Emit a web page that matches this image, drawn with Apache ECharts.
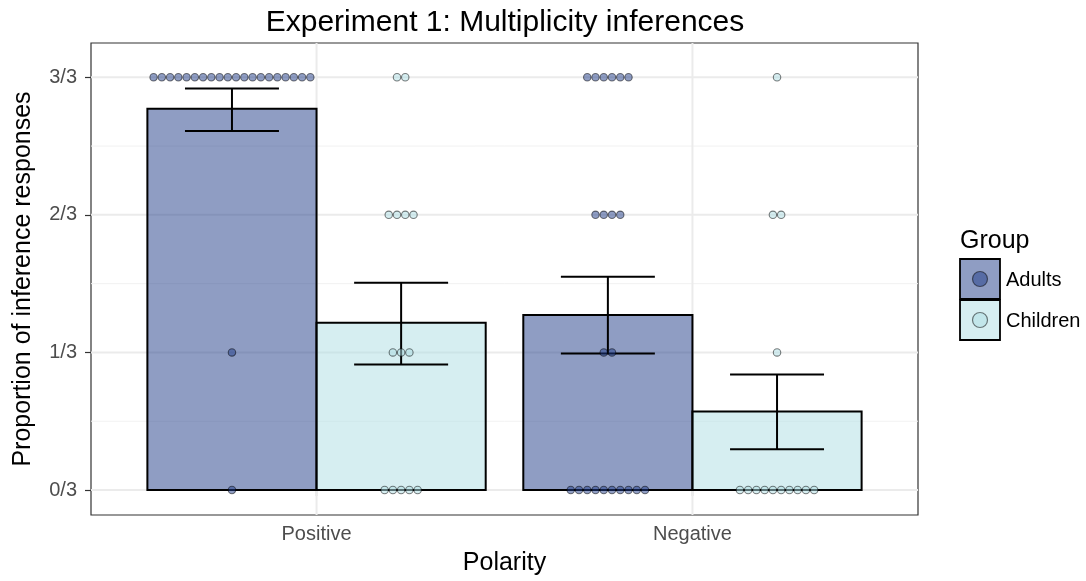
<!DOCTYPE html>
<html>
<head>
<meta charset="utf-8">
<script src="https://cdn.jsdelivr.net/npm/echarts@6/dist/echarts.min.js"></script>
<style>
html,body{margin:0;padding:0;background:#fff;}
#chart{width:1086px;height:581px;}
</style>
</head>
<body>
<div id="chart"></div>
<script>
// ---- data ----
const categories = ['Positive', 'Negative'];
const groups = ['Adults', 'Children'];
const yTickValues = [0, 1/3, 2/3, 1];
const yTickLabels = ['0/3', '1/3', '2/3', '3/3'];
const yMinorValues = [1/6, 1/2, 5/6];

const adultsMean = [0.924, 0.424];
const childrenMean = [0.405, 0.190];
const adultsLow = [0.870, 0.331];
const adultsHigh = [0.973, 0.517];
const childrenLow = [0.304, 0.099];
const childrenHigh = [0.502, 0.280];

// dot counts per response level (0/3, 1/3, 2/3, 3/3)
const dotLevels = [0, 1/3, 2/3, 1];
const adultsPositiveCounts = [1, 1, 0, 20];
const childrenPositiveCounts = [5, 3, 4, 2];
const adultsNegativeCounts = [10, 2, 4, 6];
const childrenNegativeCounts = [10, 1, 2, 1];

// ---- styling ----
const fillColors = ['rgba(31,59,135,0.5)', 'rgba(173,221,227,0.5)'];
const dotStroke = 'rgba(0,0,0,0.5)';
const FONT = '"Liberation Sans", Arial, Helvetica, sans-serif';
const DODGE = 0.45;     // bar width per group in x units
const ERR_HALF = 0.125; // half width of error-bar caps
const DOT_D = 8.25;     // dot diameter px

// ---- build series data ----
const barData = [];
const errData = [];
categories.forEach((c, i) => {
  barData.push([i + 1, adultsMean[i], 0]);
  barData.push([i + 1, childrenMean[i], 1]);
  errData.push([i + 1, adultsLow[i], adultsHigh[i], 0]);
  errData.push([i + 1, childrenLow[i], childrenHigh[i], 1]);
});
const countSets = [
  [adultsPositiveCounts, childrenPositiveCounts],
  [adultsNegativeCounts, childrenNegativeCounts]
];
const dotData = [];
countSets.forEach((pair, ci) => {
  pair.forEach((counts, gi) => {
    counts.forEach((n, li) => {
      for (let k = 0; k < n; k++) {
        dotData.push([ci + 1, dotLevels[li], gi, k, n]);
      }
    });
  });
});
const hGrid = yTickValues.map(v => [1, v, 1]).concat(yMinorValues.map(v => [1, v, 0]));
const vGrid = categories.map((c, i) => [i + 1, 0]);

function groupOffset(g) { return g === 0 ? -DODGE / 2 : DODGE / 2; }

const chart = echarts.init(document.getElementById('chart'), null, {renderer: 'canvas'});
const option = {
  animation: false,
  backgroundColor: '#fff',
  grid: {
    left: 91, right: 168, top: 43, bottom: 65,
    show: true, backgroundColor: '#fff', borderColor: '#333', borderWidth: 1.2,
    containLabel: false
  },
  xAxis: {
    type: 'value', min: 0.4, max: 2.6,
    axisLine: {show: false},
    splitLine: {show: false},
    axisTick: {show: true, customValues: [1, 2], length: 6, lineStyle: {color: '#333', width: 1.2}},
    axisLabel: {
      show: true, customValues: [1, 2], margin: 9,
      color: '#4D4D4D', fontSize: 20, fontFamily: FONT,
      formatter: v => categories[Math.round(v) - 1] || ''
    },
    name: 'Polarity', nameLocation: 'middle', nameGap: 36,
    nameTextStyle: {color: '#000', fontSize: 25, fontFamily: FONT}
  },
  yAxis: {
    type: 'value', min: -0.0605, max: 1.083,
    axisLine: {show: false},
    splitLine: {show: false},
    axisTick: {show: true, customValues: yTickValues, length: 6, lineStyle: {color: '#333', width: 1.2}},
    axisLabel: {
      show: true, customValues: yTickValues, margin: 14,
      color: '#4D4D4D', fontSize: 20, fontFamily: FONT,
      formatter: v => {
        let best = 0;
        yTickValues.forEach((t, i) => { if (Math.abs(t - v) < Math.abs(yTickValues[best] - v)) best = i; });
        return yTickLabels[best];
      }
    },
    name: 'Proportion of inference responses', nameLocation: 'middle', nameGap: 55,
    nameTextStyle: {color: '#000', fontSize: 25, fontFamily: FONT}
  },
  graphic: [
    {type: 'text', x: 505, y: 8, style: {text: 'Experiment 1: Multiplicity inferences', font: '30px ' + FONT, fill: '#000', align: 'center', textAlign: 'center'}, z: 10},
    {type: 'text', x: 960, y: 229, style: {text: 'Group', font: '25px ' + FONT, fill: '#000'}, z: 10},
    {type: 'rect', shape: {x: 960, y: 259, width: 40, height: 40}, style: {fill: fillColors[0], stroke: '#000', lineWidth: 1.8}, z: 10},
    {type: 'circle', shape: {cx: 980, cy: 279, r: 7.5}, style: {fill: fillColors[0], stroke: dotStroke, lineWidth: 1.2}, z: 11},
    {type: 'rect', shape: {x: 960, y: 300, width: 40, height: 40}, style: {fill: fillColors[1], stroke: '#000', lineWidth: 1.8}, z: 10},
    {type: 'circle', shape: {cx: 980, cy: 320, r: 7.5}, style: {fill: fillColors[1], stroke: dotStroke, lineWidth: 1.2}, z: 11},
    {type: 'text', x: 1006, y: 280, style: {text: groups[0], font: '20px ' + FONT, fill: '#000', verticalAlign: 'middle', textVerticalAlign: 'middle'}, z: 10},
    {type: 'text', x: 1006, y: 321, style: {text: groups[1], font: '20px ' + FONT, fill: '#000', verticalAlign: 'middle', textVerticalAlign: 'middle'}, z: 10}
  ],
  series: [
    {
      type: 'custom', z: 1, silent: true, data: hGrid,
      renderItem: (params, api) => {
        const y = api.coord([1, api.value(1)])[1];
        const cs = params.coordSys;
        const major = api.value(2) === 1;
        return {type: 'line', shape: {x1: cs.x, y1: y, x2: cs.x + cs.width, y2: y},
          style: {stroke: major ? '#EBEBEB' : '#F2F2F2', lineWidth: major ? 2 : 1}};
      }
    },
    {
      type: 'custom', z: 1, silent: true, data: vGrid,
      renderItem: (params, api) => {
        const x = api.coord([api.value(0), 0])[0];
        const cs = params.coordSys;
        return {type: 'line', shape: {x1: x, y1: cs.y, x2: x, y2: cs.y + cs.height},
          style: {stroke: '#EBEBEB', lineWidth: 2}};
      }
    },
    {
      type: 'custom', z: 2, data: barData,
      renderItem: (params, api) => {
        const c = api.value(0), m = api.value(1), g = api.value(2);
        const left = g === 0 ? c - DODGE : c;
        const p0 = api.coord([left, 0]);
        const p1 = api.coord([left + DODGE, m]);
        return {type: 'rect', shape: {x: p0[0], y: p1[1], width: p1[0] - p0[0], height: p0[1] - p1[1]},
          style: {fill: fillColors[g], stroke: '#000', lineWidth: 2}};
      }
    },
    {
      type: 'custom', z: 3, data: errData,
      renderItem: (params, api) => {
        const c = api.value(0) + groupOffset(api.value(3));
        const lo = api.coord([c, api.value(1)]);
        const hi = api.coord([c, api.value(2)]);
        const l = api.coord([c - ERR_HALF, 0])[0];
        const r = api.coord([c + ERR_HALF, 0])[0];
        const st = {stroke: '#000', lineWidth: 2};
        return {type: 'group', children: [
          {type: 'line', shape: {x1: lo[0], y1: lo[1], x2: hi[0], y2: hi[1]}, style: st},
          {type: 'line', shape: {x1: l, y1: lo[1], x2: r, y2: lo[1]}, style: st},
          {type: 'line', shape: {x1: l, y1: hi[1], x2: r, y2: hi[1]}, style: st}
        ]};
      }
    },
    {
      type: 'custom', z: 4, data: dotData,
      renderItem: (params, api) => {
        const g = api.value(2), k = api.value(3), n = api.value(4);
        const p = api.coord([api.value(0) + groupOffset(g), api.value(1)]);
        const cx = p[0] + (k - (n - 1) / 2) * DOT_D;
        return {type: 'circle', shape: {cx: cx, cy: p[1], r: DOT_D / 2 - 0.4},
          style: {fill: fillColors[g], stroke: dotStroke, lineWidth: 1.1}};
      }
    }
  ]
};
chart.setOption(option);
</script>
</body>
</html>
